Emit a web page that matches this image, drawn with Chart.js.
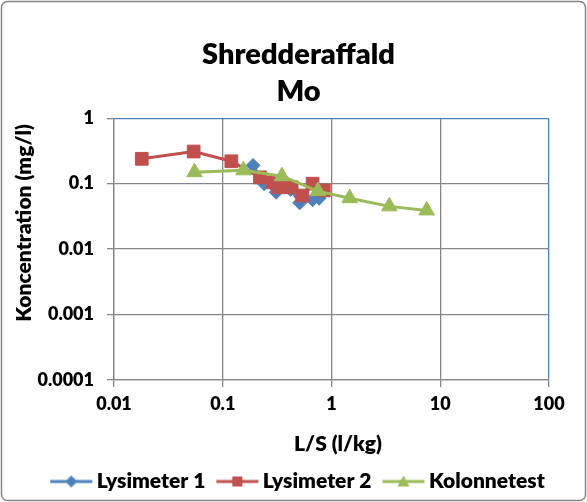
<!DOCTYPE html>
<html>
<head>
<meta charset="utf-8">
<script src="https://cdn.jsdelivr.net/npm/chart.js@4/dist/chart.umd.min.js"></script>
<style>
  html, body { margin: 0; padding: 0; background: #fff; }
  #wrap { width: 587px; height: 502px; }
</style>
</head>
<body>
<div id="wrap"><canvas id="c" width="587" height="502"></canvas></div>
<script>
const titel = ['Shredderaffald', 'Mo'];
const serieNavne = ['Lysimeter 1', 'Lysimeter 2', 'Kolonnetest'];
const xTitel = 'L/S (l/kg)';
const yTitel = 'Koncentration (mg/l)';

const lys1X = [0.19, 0.24, 0.31, 0.42, 0.51, 0.67, 0.77];
const lys1Y = [0.19, 0.10, 0.074, 0.082, 0.051, 0.057, 0.06];

const lys2X = [0.018, 0.054, 0.12, 0.22, 0.29, 0.33, 0.43, 0.54, 0.67, 0.85];
const lys2Y = [0.24, 0.31, 0.22, 0.125, 0.105, 0.088, 0.088, 0.066, 0.10, 0.079];

const kolX = [0.055, 0.155, 0.35, 0.75, 1.47, 3.4, 7.5];
const kolY = [0.15, 0.16, 0.13, 0.077, 0.06, 0.045, 0.039];

const xTicks = [0.01, 0.1, 1, 10, 100];
const xTickLabels = ['0.01', '0.1', '1', '10', '100'];
const yTicks = [0.0001, 0.001, 0.01, 0.1, 1];
const yTickLabels = ['0.0001', '0.001', '0.01', '0.1', '1'];

const farver = ['#4F81BD', '#C0504D', '#9BBB59'];
const gitter = '#868686';
const font = 'Lato, "Open Sans", sans-serif';
const vaegt = 800;

const punkter = (xs, ys) => xs.map((x, i) => ({ x, y: ys[i] }));

// legend icon: line with marker, drawn a bit to the right so it sits close to the text
function legendIkon(farve, type) {
  const c = document.createElement('canvas');
  c.width = 48; c.height = 16;
  const g = c.getContext('2d');
  const cy = 8, x0 = 5, x1 = 47, mx = (x0 + x1) / 2;
  g.strokeStyle = farve; g.fillStyle = farve; g.lineWidth = 3;
  g.beginPath(); g.moveTo(x0, cy); g.lineTo(x1, cy); g.stroke();
  g.beginPath();
  if (type === 'rectRot') {
    g.moveTo(mx, cy - 6); g.lineTo(mx + 6, cy); g.lineTo(mx, cy + 6); g.lineTo(mx - 6, cy);
  } else if (type === 'rect') {
    g.rect(mx - 5, cy - 5, 10, 10);
  } else {
    g.moveTo(mx, cy - 6); g.lineTo(mx + 6, cy + 5); g.lineTo(mx - 6, cy + 5);
  }
  g.closePath(); g.fill();
  return c;
}
const ikoner = [legendIkon(farver[0], 'rectRot'), legendIkon(farver[1], 'rect'), legendIkon(farver[2], 'triangle')];

const ramme = {
  id: 'ramme',
  beforeDraw(chart) {
    const ctx = chart.ctx;
    ctx.save();
    ctx.fillStyle = '#fff';
    ctx.fillRect(0, 0, chart.width, chart.height);
    ctx.restore();
  },
  afterDraw(chart) {
    const ctx = chart.ctx;
    ctx.save();
    ctx.strokeStyle = gitter;
    ctx.lineWidth = 1.5;
    ctx.beginPath();
    ctx.roundRect(1.5, 1.5, chart.width - 3, chart.height - 3, 6);
    ctx.stroke();
    ctx.restore();
  }
};

// axis titles sit a little off-centre in the original, so they are placed here
const aksetitler = {
  id: 'aksetitler',
  afterDraw(chart) {
    const { ctx, chartArea: a } = chart;
    ctx.save();
    ctx.fillStyle = '#000';
    ctx.font = vaegt + ' 21px ' + font;
    ctx.textAlign = 'center';
    ctx.textBaseline = 'middle';
    ctx.fillText(xTitel, a.left + (a.right - a.left) * 0.515, a.bottom + 64);
    ctx.translate(24, a.top + (a.bottom - a.top) * 0.4);
    ctx.rotate(-Math.PI / 2);
    ctx.fillText(yTitel, 0, 0);
    ctx.restore();
  }
};

const datasets = [
  { label: serieNavne[0], data: punkter(lys1X, lys1Y), pointStyle: 'rectRot', pointRadius: 7, order: 3 },
  { label: serieNavne[1], data: punkter(lys2X, lys2Y), pointStyle: 'rect', pointRadius: 9, order: 2 },
  { label: serieNavne[2], data: punkter(kolX, kolY), pointStyle: 'triangle', pointRadius: 9, order: 1 }
].map((d, i) => Object.assign(d, {
  showLine: true,
  borderColor: farver[i],
  backgroundColor: farver[i],
  pointBackgroundColor: farver[i],
  pointBorderColor: farver[i],
  pointBorderWidth: 1,
  borderWidth: 3,
  tension: 0
}));

new Chart(document.getElementById('c'), {
  type: 'scatter',
  data: { datasets },
  options: {
    responsive: false,
    animation: false,
    devicePixelRatio: 1,
    layout: { padding: { left: 10, right: 0, top: 8, bottom: 0 } },
    plugins: {
      tooltip: { enabled: false },
      title: {
        display: true,
        text: titel,
        color: '#000',
        font: { family: font, size: 29, weight: vaegt, lineHeight: 1.28 },
        padding: { top: 28, bottom: 8 }
      },
      legend: {
        position: 'bottom',
        labels: {
          color: '#000',
          font: { family: font, size: 21, weight: vaegt },
          usePointStyle: true,
          pointStyleWidth: 34,
          padding: 13,
          generateLabels(chart) {
            const items = Chart.defaults.plugins.legend.labels.generateLabels(chart);
            items.sort((a, b) => a.datasetIndex - b.datasetIndex);
            items.forEach(it => { it.pointStyle = ikoner[it.datasetIndex]; });
            return items;
          }
        }
      }
    },
    scales: {
      x: {
        type: 'logarithmic',
        min: 0.01,
        max: 100,
        afterBuildTicks(s) { s.ticks = xTicks.map(v => ({ value: v })); },
        afterFit(s) { s.height = 78; },
        ticks: {
          color: '#000',
          font: { family: font, size: 18, weight: vaegt },
          padding: 6,
          maxRotation: 0,
          callback: (v) => xTickLabels[xTicks.indexOf(v)]
        },
        grid: {
          color: (ctx) => ctx.tick && ctx.tick.value === 100 ? '#4F81BD' : gitter,
          tickColor: gitter,
          tickLength: 7,
          lineWidth: 1.3
        },
        border: { color: gitter, width: 1.3 }
      },
      y: {
        type: 'logarithmic',
        min: 0.0001,
        max: 1,
        afterBuildTicks(s) { s.ticks = yTicks.map(v => ({ value: v })); },
        afterFit(s) { s.width = 104; },
        ticks: {
          color: '#000',
          font: { family: font, size: 18, weight: vaegt },
          padding: 13,
          callback: (v) => yTickLabels[yTicks.indexOf(v)]
        },
        grid: {
          color: (ctx) => ctx.tick && ctx.tick.value === 1 ? '#4F81BD' : gitter,
          tickColor: gitter,
          tickLength: 7,
          lineWidth: 1.3
        },
        border: { color: gitter, width: 1.3 }
      },
      // empty right-hand axis, only reserves the margin right of the plot
      hoejre: {
        type: 'linear',
        position: 'right',
        afterFit(s) { s.width = 38; },
        ticks: { display: false },
        grid: { display: false },
        border: { display: false }
      }
    }
  },
  plugins: [ramme, aksetitler]
});
</script>
</body>
</html>
